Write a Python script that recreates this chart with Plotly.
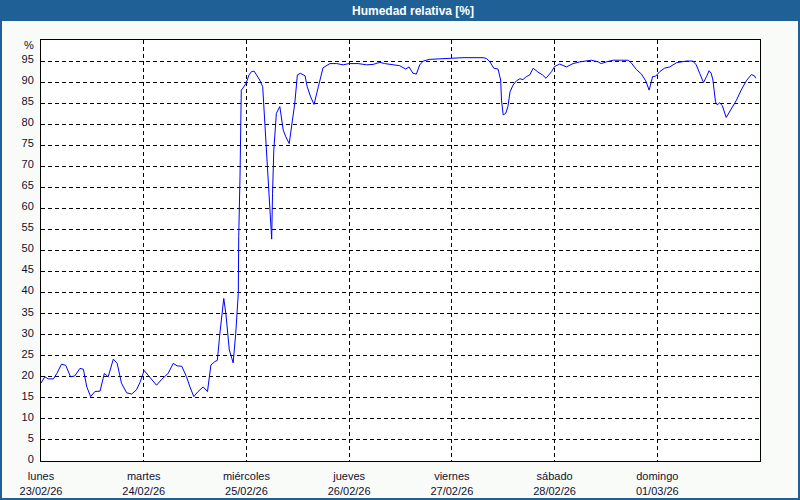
import plotly.graph_objects as go
import pandas as pd

# ---- data ----
start_day = "2026-02-23"
hours = [0, 0.9, 1.7, 2.9, 3.7, 4.8, 5.8, 6.9, 7.9, 9.1, 9.9, 10.7, 11.6, 12.6, 13.8,
         14.8, 15.7, 16.9, 17.8, 18.8, 20.0, 21.2, 22.3, 23.1, 24.1,
         25.3, 27.0, 28.2, 29.7, 30.9, 31.8, 32.9, 34.0, 34.8, 35.7, 36.7, 37.9, 38.9,
         39.7, 40.6, 41.2, 41.8, 42.7, 43.2, 44.0, 44.9, 45.5, 46.1, 46.2, 46.5, 46.6, 46.8,
         47.2, 47.9, 48.6, 49.2, 49.8, 50.4, 51.1, 51.8, 52.3, 52.9, 53.2, 53.6, 53.9,
         54.1, 54.4, 55.0, 55.8, 56.6, 57.2, 58.0, 58.5, 59.3, 59.9, 60.6, 61.7, 62.2,
         63.0, 63.8, 64.8, 65.9, 67.5, 69.1, 70.6,
         72.0, 74.1, 76.1, 77.6, 79.2, 80.3, 83.1, 83.8, 85.2, 86.0, 86.9, 87.7, 88.5,
         89.3, 90.8, 93.2,
         95.9, 98.6, 103.3, 104.1, 104.9, 105.5, 105.8, 106.8, 107.4, 107.6, 108.0, 108.6,
         109.1, 109.6, 110.3, 111.1, 111.9, 112.6, 113.4, 114.2, 115.0, 116.1, 117.2,
         118.0, 119.3,
         120.0, 121.2, 122.8, 124.3, 125.9, 128.6, 130.2, 130.9, 132.1, 133.7, 135.6,
         137.2, 137.9, 139.1, 140.3, 141.3, 142.1, 142.9, 143.6,
         144.6, 145.7, 146.9, 148.5, 150.8, 152.3, 153.1, 153.9, 154.8, 155.5, 156.1,
         156.6, 157.0, 157.6, 158.0, 158.6, 159.2, 160.1, 161.3, 162.5, 163.6, 164.8,
         166.0, 166.7, 167.0]
rh = [18.5, 20.0, 19.5, 19.5, 20.8, 23.0, 22.7, 20.0, 20.2, 22.0, 21.8, 17.6, 15.3, 16.5, 16.6,
      20.8, 20.0, 24.2, 23.2, 18.5, 16.2, 15.9, 16.9, 18.6, 21.5,
      20.0, 18.0, 19.4, 20.8, 23.2, 22.6, 22.5, 20.0, 17.6, 15.3, 16.5, 17.6, 16.5,
      22.8, 23.6, 23.9, 30.3, 38.6, 35.0, 26.4, 23.3, 30.3, 39.8, 53.3, 67.5, 81.0, 88.1,
      88.6, 89.7, 91.7, 92.5, 92.6, 91.7, 90.5, 88.9, 80.2, 69.9, 65.2, 57.2, 52.7,
      63.6, 73.9, 82.6, 84.2, 78.6, 77.0, 75.4, 79.4, 85.0, 91.7, 92.1, 91.5, 88.9,
      86.5, 84.7, 88.9, 93.4, 94.4, 94.4, 94.1,
      94.4, 94.4, 94.1, 94.2, 94.7, 94.4, 94.1, 93.9, 93.1, 93.6, 92.1, 91.9, 94.1,
      95.0, 95.4, 95.5,
      95.6, 95.8, 95.8, 95.6, 94.8, 93.6, 93.3, 93.1, 90.5, 85.7, 82.2, 82.6,
      84.2, 87.7, 89.3, 90.3, 90.8, 90.6, 91.3, 91.7, 93.3, 92.4, 91.7,
      90.9, 92.5,
      93.7, 94.3, 93.6, 94.4, 94.8, 95.2, 94.8, 94.4, 94.8, 95.2, 95.2,
      95.2, 94.6, 93.0, 91.9, 90.3, 88.1, 91.3, 91.4,
      92.5, 93.3, 93.6, 94.6, 95.0, 95.0, 94.1, 92.1, 89.9, 91.3, 92.7,
      92.1, 90.5, 85.3, 84.6, 85.1, 84.4, 81.6, 83.8, 85.7, 88.1, 90.3,
      91.8, 91.5, 90.9]
day_names = ["lunes", "martes", "miércoles", "jueves", "viernes", "sábado", "domingo"]
day_dates = ["23/02/26", "24/02/26", "25/02/26", "26/02/26", "27/02/26", "28/02/26", "01/03/26"]
y_ticks = [0, 5, 10, 15, 20, 25, 30, 35, 40, 45, 50, 55, 60, 65, 70, 75, 80, 85, 90, 95]
title_text = "Humedad relativa [%]"
unit_text = "%"

# ---- build ----
t0 = pd.Timestamp(start_day)
times = [t0 + pd.Timedelta(hours=h) for h in hours]
day_ticks = [t0 + pd.Timedelta(days=i) for i in range(len(day_names))]
x_end = t0 + pd.Timedelta(days=len(day_names))

W, H = 800, 500
ML, MR, MT, MB = 41, 40, 40, 39
PW, PH = W - ML - MR, H - MT - MB


def px(x):
    return (x - ML) / PW


def py(y):
    return (H - MB - y) / PH


TXT = "#101030"
FONT = "Liberation Sans"

fig = go.Figure()
fig.add_trace(go.Scatter(x=times, y=rh, mode="lines",
                         line=dict(color="#0000ff", width=1), hoverinfo="skip",
                         showlegend=False))

fig.update_layout(
    width=W, height=H,
    margin=dict(l=ML, r=MR, t=MT, b=MB, autoexpand=False),
    paper_bgcolor="#f9fbf9",
    plot_bgcolor="#ffffff",
    font=dict(family=FONT, size=11, color=TXT),
    showlegend=False,
)
fig.update_xaxes(
    type="date", range=[t0, x_end], automargin=False,
    tickvals=day_ticks,
    ticktext=[f"{n}<br>{d}" for n, d in zip(day_names, day_dates)],
    showgrid=True, gridcolor="#000000", gridwidth=1, griddash="4px,3px",
    showline=True, linecolor="#000000", linewidth=1, mirror=True,
    ticks="", zeroline=False, tickangle=0, ticklabelstandoff=5,
    tickfont=dict(family=FONT, size=11, color=TXT),
)
fig.update_yaxes(
    range=[0, 100], tickvals=y_ticks, ticktext=[str(v) for v in y_ticks],
    automargin=False,
    showgrid=True, gridcolor="#000000", gridwidth=1, griddash="4px,3px",
    showline=True, linecolor="#000000", linewidth=1, mirror=True,
    ticks="", zeroline=False, ticklabelstandoff=4, ticklabelshift=-2,
    tickfont=dict(family=FONT, size=11, color=TXT),
)

# title bar and frame
fig.add_shape(type="rect", xref="paper", yref="paper",
              x0=px(0), x1=px(W), y0=py(21), y1=py(0),
              fillcolor="#1f6096", line=dict(width=0), layer="below")
fig.add_shape(type="rect", xref="paper", yref="paper",
              x0=px(1), x1=px(W - 1), y0=py(H - 1), y1=py(1),
              fillcolor="rgba(0,0,0,0)", line=dict(color="#1f6096", width=2))
fig.add_annotation(text=f"<b>{title_text}</b>", xref="paper", yref="paper",
                   x=px(413), y=py(10.5), xanchor="center", yanchor="middle",
                   showarrow=False, font=dict(family=FONT, size=12, color="#ffffff"))
fig.add_annotation(text=unit_text, xref="paper", yref="paper",
                   x=px(36), y=py(45), xanchor="right", yanchor="middle",
                   showarrow=False, font=dict(family=FONT, size=11, color=TXT))

fig.write_html("out.html", config={"displayModeBar": False},
               post_script="document.body.style.margin='0';document.body.style.padding='0';")
